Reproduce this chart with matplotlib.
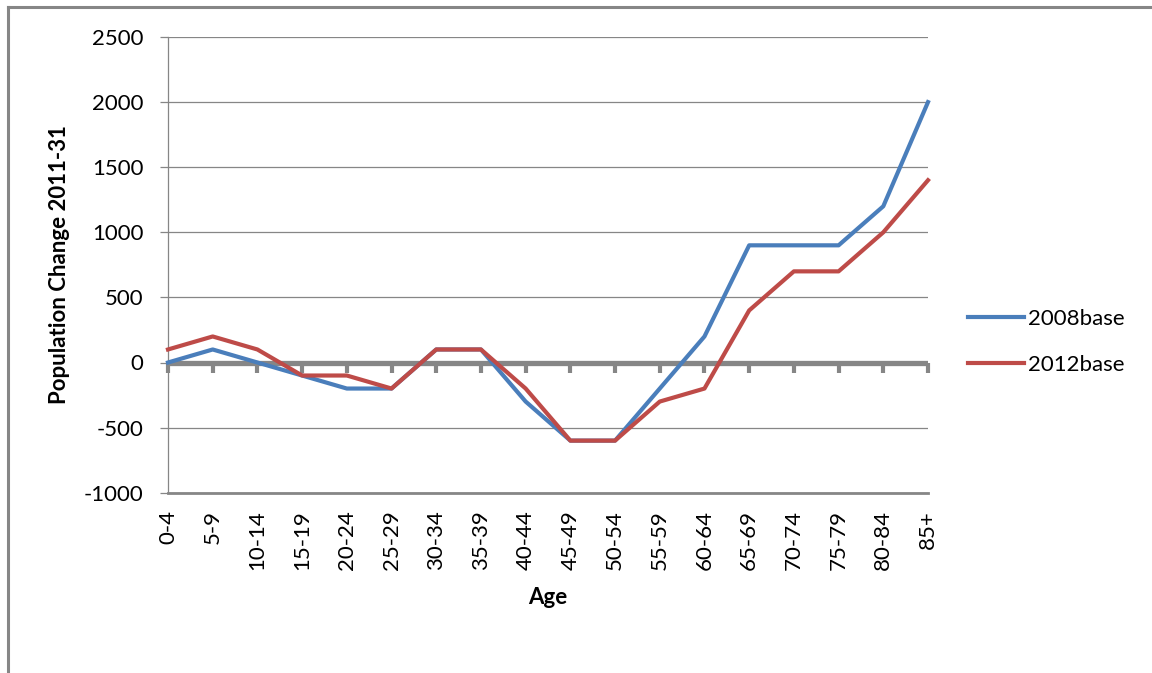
import matplotlib
matplotlib.use("Agg")
import matplotlib.pyplot as plt
from matplotlib import markers
from matplotlib.lines import Line2D

age_groups = ["0-4", "5-9", "10-14", "15-19", "20-24", "25-29", "30-34", "35-39",
              "40-44", "45-49", "50-54", "55-59", "60-64", "65-69", "70-74",
              "75-79", "80-84", "85+"]
base_2008 = [0, 100, 0, -100, -200, -200, 100, 100, -300, -600, -600, -200,
             200, 900, 900, 900, 1200, 2000]
base_2012 = [100, 200, 100, -100, -100, -200, 100, 100, -200, -600, -600, -300,
             -200, 400, 700, 700, 1000, 1400]
y_ticks = [-1000, -500, 0, 500, 1000, 1500, 2000, 2500]

GRAY = "#868686"
BLUE = "#4A7EBB"
RED = "#BE4B48"

plt.rcParams["font.family"] = ["Lato", "DejaVu Sans"]
plt.rcParams["axes.unicode_minus"] = False

W, H = 1152, 673
fig = plt.figure(figsize=(W / 100, H / 100), dpi=100)
ax = fig.add_axes([168 / W, 180.3 / H, 760 / W, 455.7 / H])

x = list(range(len(age_groups)))

# gridlines and axes
ax.set_ylim(-1000, 2500)
ax.set_xlim(0, len(age_groups) - 1)
ax.set_yticks(y_ticks)
ax.yaxis.grid(True, color=GRAY, linewidth=0.9)
ax.set_axisbelow(True)
for s in ("top", "right"):
    ax.spines[s].set_visible(False)
ax.spines["left"].set_color(GRAY)
ax.spines["left"].set_linewidth(0.9)
ax.spines["bottom"].set_color(GRAY)
ax.spines["bottom"].set_linewidth(2.0)

ax.tick_params(axis="y", length=6, width=0.9, color=GRAY, pad=11.5,
               labelsize=16, labelcolor="black")
ax.set_xticks(x)
ax.set_xticklabels(age_groups, rotation=90, va="top", ha="center")
ax.tick_params(axis="x", length=0, pad=12.5, labelsize=16)

# zero axis with category tick marks
ax.axhline(0, color=GRAY, linewidth=3.8, zorder=1.5)
ax.plot(x, [0] * len(x), linestyle="none", marker=markers.TICKDOWN,
        markersize=7, markeredgewidth=3.0, color=GRAY, zorder=1.5, clip_on=False)

line_2008, = ax.plot(x, base_2008, color=BLUE, linewidth=3.0, label="2008base",
                     clip_on=False, zorder=3, solid_joinstyle="round")
line_2012, = ax.plot(x, base_2012, color=RED, linewidth=3.0, label="2012base",
                     clip_on=False, zorder=3, solid_joinstyle="round")

fig.text(60 / W, 1 - 264.5 / H, "Population Change 2011-31", rotation=90,
         ha="center", va="center", fontsize=16, fontweight="bold")
fig.text(548 / W, 1 - 598 / H, "Age", ha="center", va="center",
         fontsize=16, fontweight="bold")

fig.legend(handles=[line_2008, line_2012], loc="center left",
           bbox_to_anchor=(968 / W, 1 - 342 / H), frameon=False, fontsize=16,
           handlelength=2.52, handletextpad=0.2, labelspacing=1.16,
           borderpad=0, borderaxespad=0)

# chart frame
fig.add_artist(Line2D([8 / W, 8 / W], [0, 1 - 7 / H], transform=fig.transFigure,
                      color=GRAY, linewidth=2.2))
fig.add_artist(Line2D([8 / W, 1], [1 - 7 / H, 1 - 7 / H], transform=fig.transFigure,
                      color=GRAY, linewidth=2.2))

fig.savefig("out.png", dpi=100)
